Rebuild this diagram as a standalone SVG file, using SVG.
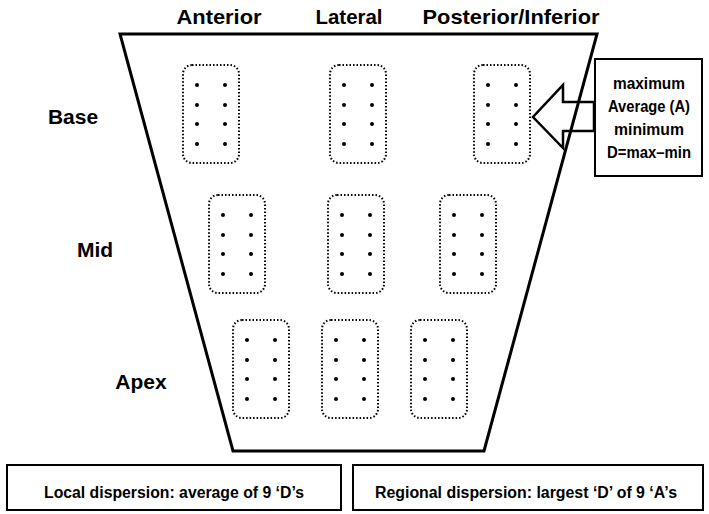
<svg xmlns="http://www.w3.org/2000/svg" width="709" height="514" viewBox="0 0 709 514">
<style>
text{font-family:"Liberation Sans",Arial,sans-serif;font-weight:bold;fill:#000}
.hdr{font-size:21px;text-anchor:middle}
.row{font-size:21px;text-anchor:middle}
.info{font-size:16px;text-anchor:middle}
.bot{font-size:16px;text-anchor:middle}
.grp{fill:none;stroke:#000;stroke-width:2;stroke-dasharray:1.5 2;}
.dot{fill:#000}
.frame{fill:none;stroke:#000;stroke-width:2}
</style>
<defs>
<g id="cell">
<rect class="grp" x="0" y="0" width="56" height="98" rx="9"/>
<circle class="dot" cx="14" cy="20" r="2"/><circle class="dot" cx="42" cy="20" r="2"/>
<circle class="dot" cx="14" cy="40" r="2"/><circle class="dot" cx="42" cy="40" r="2"/>
<circle class="dot" cx="14" cy="59" r="2"/><circle class="dot" cx="42" cy="59" r="2"/>
<circle class="dot" cx="14" cy="79" r="2"/><circle class="dot" cx="42" cy="79" r="2"/>
</g>
</defs>
<rect width="709" height="514" fill="#fff"/>
<g id="headers">
<text class="hdr" x="219" y="24" textLength="85" lengthAdjust="spacingAndGlyphs">Anterior</text>
<text class="hdr" x="349" y="24" textLength="67" lengthAdjust="spacingAndGlyphs">Lateral</text>
<text class="hdr" x="511" y="24" textLength="177" lengthAdjust="spacingAndGlyphs">Posterior/Inferior</text>
</g>
<g id="labels">
<text class="row" x="73" y="124">Base</text>
<text class="row" x="95" y="257">Mid</text>
<text class="row" x="141" y="389">Apex</text>
</g>
<g id="heart">
<polygon points="120,34 597,34 484,451 233,451" fill="none" stroke="#000" stroke-width="3" stroke-linejoin="miter"/>
</g>
<g id="base-anterior"><use href="#cell" x="183" y="65"/></g>
<g id="base-lateral"><use href="#cell" x="330" y="65"/></g>
<g id="base-posterior"><use href="#cell" x="474" y="65"/></g>
<g id="mid-anterior"><use href="#cell" x="209" y="195"/></g>
<g id="mid-lateral"><use href="#cell" x="328" y="195"/></g>
<g id="mid-posterior"><use href="#cell" x="440" y="195"/></g>
<g id="apex-anterior"><use href="#cell" x="233" y="320"/></g>
<g id="apex-lateral"><use href="#cell" x="322" y="320"/></g>
<g id="apex-posterior"><use href="#cell" x="411" y="320"/></g>
<g id="connectors">
<polygon points="594,102 563,102 563,85 533,117 563,148 563,131 594,131" fill="none" stroke="#000" stroke-width="2.5" stroke-linejoin="miter"/>
</g>
<g id="stats-box">
<rect class="frame" x="595" y="59" width="107" height="117"/>
<text class="info" x="649" y="89" textLength="72" lengthAdjust="spacingAndGlyphs">maximum</text>
<text class="info" x="649" y="112" textLength="82" lengthAdjust="spacingAndGlyphs">Average (A)</text>
<text class="info" x="649" y="135" textLength="70" lengthAdjust="spacingAndGlyphs">minimum</text>
<text class="info" x="649" y="158" textLength="84" lengthAdjust="spacingAndGlyphs">D=max–min</text>
</g>
<g id="local-box">
<rect class="frame" x="7" y="465" width="334" height="45"/>
<text class="bot" x="174" y="498" textLength="260" lengthAdjust="spacingAndGlyphs">Local dispersion: average of 9 ‘D’s</text>
</g>
<g id="regional-box">
<rect class="frame" x="353" y="465" width="350" height="45"/>
<text class="bot" x="526" y="498" textLength="302" lengthAdjust="spacingAndGlyphs">Regional dispersion: largest ‘D’ of 9 ‘A’s</text>
</g>
</svg>
